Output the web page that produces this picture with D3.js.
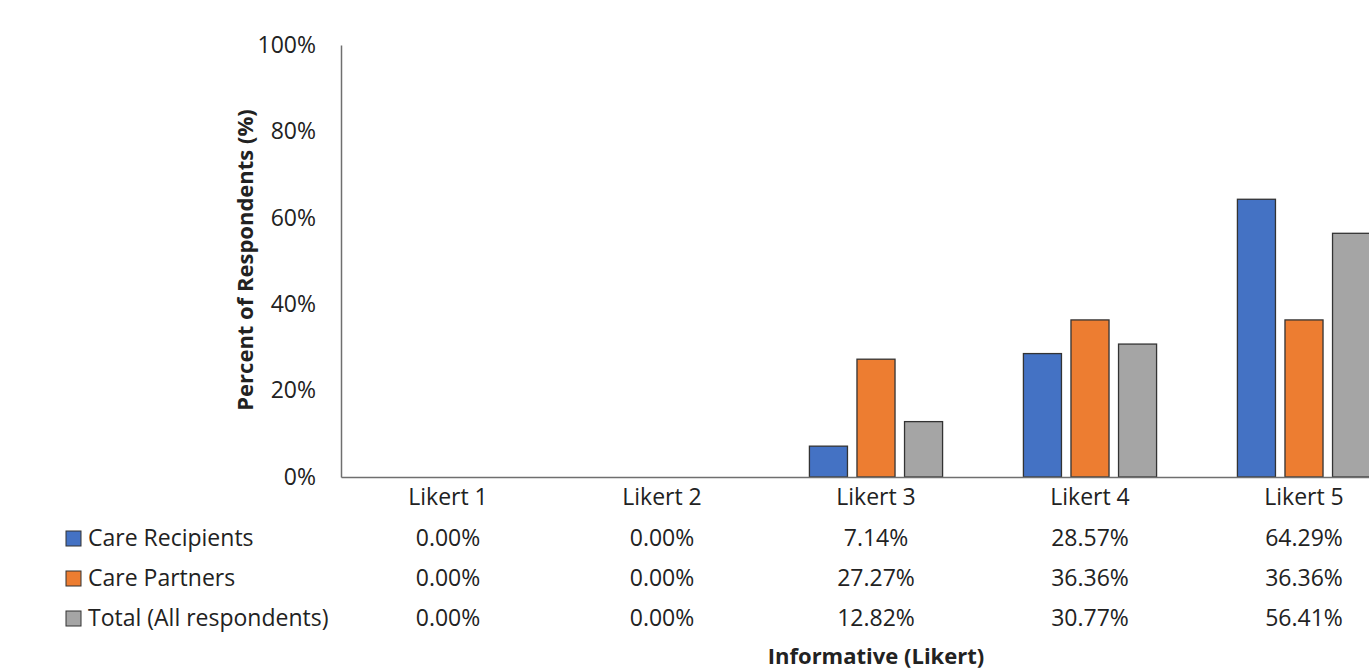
<!DOCTYPE html>
<html>
<head>
<meta charset="utf-8">
<script src="https://cdn.jsdelivr.net/npm/d3@7"></script>
<style>
  html, body { margin: 0; padding: 0; background: #fff; }
  svg { display: block; }
  text { font-family: "Open Sans", Lato, sans-serif; fill: #222; }
</style>
</head>
<body>
<svg id="chart" width="1369" height="669"></svg>
<script>
// Survey responses by Likert level
const categories = ["Likert 1", "Likert 2", "Likert 3", "Likert 4", "Likert 5"];
const seriesNames = ["Care Recipients", "Care Partners", "Total (All respondents)"];
const careRecipients = [0.00, 0.00, 7.14, 28.57, 64.29];
const carePartners = [0.00, 0.00, 27.27, 36.36, 36.36];
const totalAll = [0.00, 0.00, 12.82, 30.77, 56.41];
const yTicks = [0, 20, 40, 60, 80, 100];
const colors = ["#4472C4", "#ED7D31", "#A5A5A5"];

const seriesValues = [careRecipients, carePartners, totalAll];
const fontSize = 23;
const titleSize = 22;

const svg = d3.select("#chart");
const plot = { left: 341, top: 45, bottom: 477, bandW: 214 };

const x = d3.scaleBand()
  .domain(categories)
  .range([plot.left, plot.left + plot.bandW * categories.length])
  .padding(0);

const xs = d3.scaleBand()
  .domain(seriesNames)
  .range([0, x.bandwidth()])
  .paddingInner(0.2)
  .paddingOuter(0.85);

const y = d3.scaleLinear().domain([0, 100]).range([plot.bottom, plot.top]);

// Y axis
const yAxis = svg.append("g")
  .attr("transform", `translate(${plot.left},0)`)
  .call(d3.axisLeft(y).tickValues(yTicks).tickSize(0).tickPadding(25).tickFormat(d => d + "%"));
yAxis.select(".domain").attr("stroke", "#6f6f6f").attr("stroke-width", 1.5);
yAxis.selectAll("text").attr("font-size", fontSize).attr("fill", "#222").style("font-family", "'Open Sans', sans-serif");

// Bars
const groups = svg.append("g").selectAll("g")
  .data(categories)
  .join("g")
  .attr("transform", d => `translate(${x(d)},0)`);

groups.selectAll("rect")
  .data((c, i) => seriesNames.map((s, j) => ({ s, j, v: seriesValues[j][i] })))
  .join("rect")
  .filter(d => d.v > 0)
  .attr("x", d => xs(d.s))
  .attr("width", xs.bandwidth())
  .attr("y", d => y(d.v))
  .attr("height", d => y(0) - y(d.v))
  .attr("fill", d => colors[d.j])
  .attr("stroke", "#333")
  .attr("stroke-width", 1.3);

// X axis baseline
const xAxis = svg.append("g")
  .attr("transform", `translate(0,${plot.bottom})`)
  .call(d3.axisBottom(x).tickSize(0).tickPadding(12));
xAxis.select(".domain").attr("stroke", "#6f6f6f").attr("stroke-width", 1.5);
xAxis.selectAll("text").attr("font-size", fontSize).attr("fill", "#222").style("font-family", "'Open Sans', sans-serif");

// Data table below the axis
const rowY = [538, 578, 618];
const table = svg.append("g");
seriesNames.forEach((name, j) => {
  table.append("rect")
    .attr("x", 66).attr("y", rowY[j] - 7)
    .attr("width", 15).attr("height", 15)
    .attr("fill", colors[j]).attr("stroke", "#333").attr("stroke-width", 1);
  table.append("text")
    .attr("x", 88).attr("y", rowY[j])
    .attr("dy", "0.35em")
    .attr("font-size", fontSize)
    .text(name);
  categories.forEach((c, i) => {
    table.append("text")
      .attr("x", x(c) + x.bandwidth() / 2)
      .attr("y", rowY[j])
      .attr("dy", "0.35em")
      .attr("text-anchor", "middle")
      .attr("font-size", fontSize)
      .text(seriesValues[j][i].toFixed(2) + "%");
  });
});

// Axis titles
svg.append("text")
  .attr("transform", `translate(253,${260}) rotate(-90)`)
  .attr("text-anchor", "middle")
  .attr("font-size", titleSize)
  .attr("font-weight", "bold")
  .text("Percent of Respondents (%)");

svg.append("text")
  .attr("x", x("Likert 3") + x.bandwidth() / 2)
  .attr("y", 664)
  .attr("text-anchor", "middle")
  .attr("font-size", titleSize)
  .attr("font-weight", "bold")
  .text("Informative (Likert)");
</script>
</body>
</html>
